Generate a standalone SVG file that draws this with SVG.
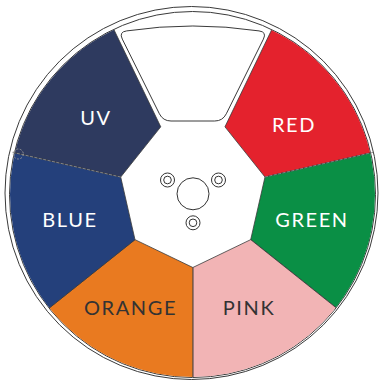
<svg xmlns="http://www.w3.org/2000/svg" width="379" height="385" viewBox="0 0 379 385">
<style>
.seg{stroke:#3a3a3a;stroke-width:0.8;stroke-linejoin:round}
.ring{fill:none;stroke:#3a3a3a;stroke-width:1}
.lbl{font-family:Lato,"Open Sans","Liberation Sans",sans-serif;font-size:20px;letter-spacing:1.6px;text-anchor:middle}
.w{fill:#ffffff}
.d{fill:#333333}
.hole{fill:#ffffff;stroke:#333;stroke-width:1}
</style>
<defs>
<clipPath id="wheel"><circle cx="192.5" cy="194.5" r="182.5"/></clipPath>
</defs>
<rect width="379" height="385" fill="#ffffff"/>
<circle class="ring" cx="191.5" cy="193" r="186.5"/>
<circle class="ring" cx="192.5" cy="194.5" r="183"/>
<g clip-path="url(#wheel)">
<g id="uv"><path class="seg" fill="#2e3a5f" d="M120.71,177.03 L160.74,126.83 L62.68,-76.8 L-99.6,126.75 Z"/></g>
<g id="red"><path class="seg" fill="#e4222d" d="M224.96,126.83 L264.99,177.03 L485.3,126.75 L323,-76.8 Z"/></g>
<g id="green"><path class="seg" fill="#0a8f45" d="M264.99,177.03 L250.71,239.64 L427.4,380.55 L485.3,126.75 Z"/></g>
<g id="pink"><path class="seg" fill="#f2b4b5" d="M250.71,239.64 L192.85,267.5 L192.85,493.5 L427.4,380.55 Z"/></g>
<g id="orange"><path class="seg" fill="#e97a20" d="M192.85,267.5 L134.99,239.64 L-41.7,380.55 L192.85,493.5 Z"/></g>
<g id="blue"><path class="seg" fill="#24407b" d="M134.99,239.64 L120.71,177.03 L-99.6,126.75 L-41.7,380.55 Z"/></g>
</g>
<g id="connectors">
<line x1="120.71" y1="177.03" x2="12" y2="152.2" stroke="#8a8a8a" stroke-width="0.9" stroke-dasharray="3 1.5"/>
<line x1="264.99" y1="177.03" x2="373" y2="152.4" stroke="#8a8a8a" stroke-width="0.9" stroke-dasharray="3 1.5"/>
</g>
<g id="marker-ring"><circle cx="18.3" cy="154" r="5" fill="none" stroke="#9a9a9a" stroke-width="0.9" stroke-dasharray="2 1.5"/></g>
<g id="reserved"><path fill="#ffffff" stroke="#3a3a3a" stroke-width="1" d="M171,121 L214.7,121 Q222.7,121 226.3,113.8 L263.4,39.1 Q267,31.9 259,30.9 A450,450 0 0 0 126.7,30.9 Q118.7,31.9 122.3,39.1 L159.4,113.8 Q163,121 171,121 Z"/></g>
<g id="hub">
<circle class="hole" cx="193" cy="193.8" r="16"/>
<circle class="hole" cx="167.5" cy="180" r="7"/><circle class="hole" cx="167.5" cy="180" r="3.8"/>
<circle class="hole" cx="218.5" cy="180" r="7"/><circle class="hole" cx="218.5" cy="180" r="3.8"/>
<circle class="hole" cx="193" cy="222.8" r="7"/><circle class="hole" cx="193" cy="222.8" r="3.8"/>
</g>
<g id="labels">
<text class="lbl w" x="96" y="125">UV</text>
<text class="lbl w" x="294" y="132">RED</text>
<text class="lbl w" x="70" y="226.5">BLUE</text>
<text class="lbl w" x="312" y="226.5">GREEN</text>
<text class="lbl d" x="249" y="315">PINK</text>
<text class="lbl d" x="130.5" y="314.5">ORANGE</text>
</g>
</svg>
